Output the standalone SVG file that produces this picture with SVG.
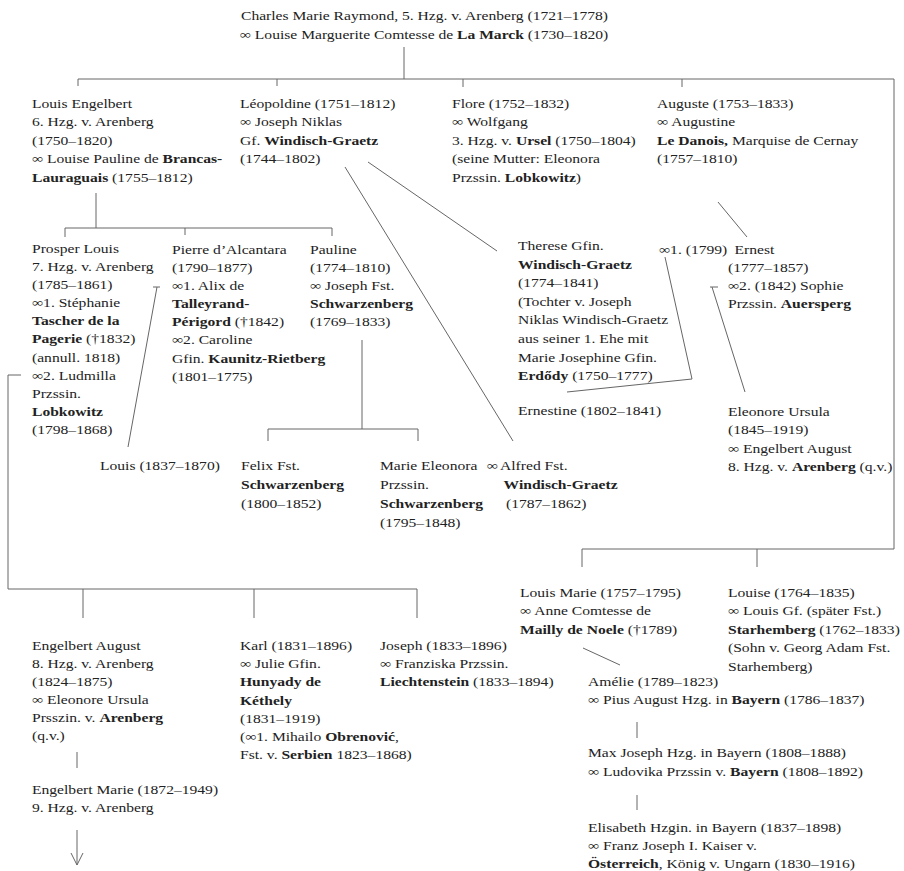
<svg xmlns="http://www.w3.org/2000/svg" width="904" height="871" viewBox="0 0 904 871">
<style>
text { font-family: "Liberation Serif", "Times New Roman", serif; font-size: 13px; fill: #222; }
.b { font-weight: bold; }
.c { fill: none; stroke: #666; stroke-width: 1; }
</style>
<rect width="904" height="871" fill="#fff"/>
<g id="connectors" class="c">
  <path d="M404,47 V79"/>
  <path d="M78,79 H894 V549"/>
  <path d="M78,79 V86 M277,79 V86 M463,79 V87 M682,79 V87"/>
  <path d="M96,193 V228 M65,237 V228 H332 V236 M185,228 V235"/>
  <path d="M345,167 L513,441"/>
  <path d="M368,162 L497,251"/>
  <path d="M718,202 L747,237"/>
  <path d="M665,257 L692,379 L567,392"/>
  <path d="M710,287 H718 M712,287 L745,392"/>
  <path d="M153,287 H160 M157,287 L128,447"/>
  <path d="M21,375 H8 V589 H417 V618 M83,589 V618 M254,589 V618"/>
  <path d="M362,340 V429 M268,441 V429 H418 V441"/>
  <path d="M582,567 V549 H894 M757,549 V567"/>
  <path d="M583,648 L620,665"/>
  <path d="M637,722 V738 M637,795 V810 M77,752 V768"/>
  <path d="M77,830 V865 M71,853 L77,865 L83,853"/>
</g>
<g id="charles" transform="translate(241,20) scale(1.2,1)">
  <text x="0" y="0">Charles Marie Raymond, 5. Hzg. v. Arenberg (1721–1778)</text>
  <text x="-1" y="19">∞ Louise Marguerite Comtesse de <tspan class="b">La Marck</tspan> (1730–1820)</text>
</g>
<g id="louis-engelbert" transform="translate(32,108) scale(1.2,1)">
  <text y="0">Louis Engelbert</text>
  <text y="18.5">6. Hzg. v. Arenberg</text>
  <text y="37">(1750–1820)</text>
  <text y="55.5">∞ Louise Pauline de <tspan class="b">Brancas-</tspan></text>
  <text y="74"><tspan class="b">Lauraguais</tspan> (1755–1812)</text>
</g>
<g id="leopoldine" transform="translate(240,108) scale(1.2,1)">
  <text y="0">Léopoldine (1751–1812)</text>
  <text y="18.5">∞ Joseph Niklas</text>
  <text y="37">Gf. <tspan class="b">Windisch-Graetz</tspan></text>
  <text y="55.5">(1744–1802)</text>
</g>
<g id="flore" transform="translate(452,108) scale(1.2,1)">
  <text y="0">Flore (1752–1832)</text>
  <text y="18.5">∞ Wolfgang</text>
  <text y="37">3. Hzg. v. <tspan class="b">Ursel</tspan> (1750–1804)</text>
  <text y="55.5">(seine Mutter: Eleonora</text>
  <text y="74">Przssin. <tspan class="b">Lobkowitz</tspan>)</text>
</g>
<g id="auguste" transform="translate(657,108) scale(1.2,1)">
  <text y="0">Auguste (1753–1833)</text>
  <text y="18.5">∞ Augustine</text>
  <text y="37"><tspan class="b">Le Danois,</tspan> Marquise de Cernay</text>
  <text y="55.5">(1757–1810)</text>
</g>
<g id="prosper" transform="translate(32,253) scale(1.2,1)">
  <text y="0">Prosper Louis</text>
  <text y="18.1">7. Hzg. v. Arenberg</text>
  <text y="36.2">(1785–1861)</text>
  <text y="54.3">∞1. Stéphanie</text>
  <text y="72.4" class="b">Tascher de la</text>
  <text y="90.5"><tspan class="b">Pagerie</tspan> (†1832)</text>
  <text y="108.6">(annull. 1818)</text>
  <text y="126.7">∞2. Ludmilla</text>
  <text y="144.8">Przssin.</text>
  <text y="162.9" class="b">Lobkowitz</text>
  <text y="181">(1798–1868)</text>
</g>
<g id="pierre" transform="translate(172,254) scale(1.2,1)">
  <text y="0">Pierre d’Alcantara</text>
  <text y="18.1">(1790–1877)</text>
  <text y="36.2">∞1. Alix de</text>
  <text y="54.3" class="b">Talleyrand-</text>
  <text y="72.4"><tspan class="b">Périgord</tspan> (†1842)</text>
  <text y="90.5">∞2. Caroline</text>
  <text y="108.6">Gfin. <tspan class="b">Kaunitz-Rietberg</tspan></text>
  <text y="126.7">(1801–1775)</text>
</g>
<g id="pauline" transform="translate(310,254) scale(1.2,1)">
  <text y="0">Pauline</text>
  <text y="18.1">(1774–1810)</text>
  <text y="36.2">∞ Joseph Fst.</text>
  <text y="54.3" class="b">Schwarzenberg</text>
  <text y="72.4">(1769–1833)</text>
</g>
<g id="therese" transform="translate(518,250) scale(1.2,1)">
  <text y="0">Therese Gfin.</text>
  <text y="18.6" class="b">Windisch-Graetz</text>
  <text y="37.2">(1774–1841)</text>
  <text y="55.8">(Tochter v. Joseph</text>
  <text y="74.4">Niklas Windisch-Graetz</text>
  <text y="93">aus seiner 1. Ehe mit</text>
  <text y="111.6">Marie Josephine Gfin.</text>
  <text y="130.2"><tspan class="b">Erdődy</tspan> (1750–1777)</text>
</g>
<g id="ernestine" transform="translate(518,415) scale(1.2,1)">
  <text y="0">Ernestine (1802–1841)</text>
</g>
<g id="ernest" transform="translate(659,254) scale(1.2,1)">
  <text x="0" y="0">∞1. (1799)</text>
  <text x="63" y="0">Ernest</text>
  <text x="57.5" y="18">(1777–1857)</text>
  <text x="57.5" y="36">∞2. (1842) Sophie</text>
  <text x="57.5" y="54">Przssin. <tspan class="b">Auersperg</tspan></text>
</g>
<g id="eleonore" transform="translate(728,416) scale(1.2,1)">
  <text y="0">Eleonore Ursula</text>
  <text y="18.3">(1845–1919)</text>
  <text y="36.6">∞ Engelbert August</text>
  <text y="54.9">8. Hzg. v. <tspan class="b">Arenberg</tspan> (q.v.)</text>
</g>
<g id="louis" transform="translate(100,470) scale(1.2,1)">
  <text y="0">Louis (1837–1870)</text>
</g>
<g id="felix" transform="translate(241,470) scale(1.2,1)">
  <text y="0">Felix Fst.</text>
  <text y="19" class="b">Schwarzenberg</text>
  <text y="38">(1800–1852)</text>
</g>
<g id="marie-eleonora" transform="translate(380,470) scale(1.2,1)">
  <text y="0">Marie Eleonora</text>
  <text x="89" y="0">∞</text>
  <text y="19">Przssin.</text>
  <text y="38" class="b">Schwarzenberg</text>
  <text y="57">(1795–1848)</text>
</g>
<g id="alfred" transform="translate(500,470) scale(1.2,1)">
  <text x="0" y="0">Alfred Fst.</text>
  <text x="3" y="19" class="b">Windisch-Graetz</text>
  <text x="5" y="38">(1787–1862)</text>
</g>
<g id="louis-marie" transform="translate(520,597) scale(1.2,1)">
  <text y="0">Louis Marie (1757–1795)</text>
  <text y="18.5">∞  Anne Comtesse de</text>
  <text y="37"><tspan class="b">Mailly de Noele</tspan> (†1789)</text>
</g>
<g id="louise" transform="translate(728,597) scale(1.2,1)">
  <text y="0">Louise (1764–1835)</text>
  <text y="18.5">∞ Louis Gf. (später Fst.)</text>
  <text y="37"><tspan class="b">Starhemberg</tspan> (1762–1833)</text>
  <text y="55.5">(Sohn v. Georg Adam Fst.</text>
  <text y="74">Starhemberg)</text>
</g>
<g id="engelbert-august" transform="translate(32,650) scale(1.2,1)">
  <text y="0">Engelbert August</text>
  <text y="18">8. Hzg. v. Arenberg</text>
  <text y="36">(1824–1875)</text>
  <text y="54">∞ Eleonore Ursula</text>
  <text y="72">Prsszin. v. <tspan class="b">Arenberg</tspan></text>
  <text y="90">(q.v.)</text>
</g>
<g id="karl" transform="translate(240,650) scale(1.2,1)">
  <text y="0">Karl (1831–1896)</text>
  <text y="18.2">∞ Julie Gfin.</text>
  <text y="36.4" class="b">Hunyady de</text>
  <text y="54.6" class="b">Kéthely</text>
  <text y="72.8">(1831–1919)</text>
  <text y="91">(∞1. Mihailo <tspan class="b">Obrenović</tspan>,</text>
  <text y="109.2">Fst. v. <tspan class="b">Serbien</tspan> 1823–1868)</text>
</g>
<g id="joseph" transform="translate(380,650) scale(1.2,1)">
  <text y="0">Joseph (1833–1896)</text>
  <text y="18.2">∞ Franziska Przssin.</text>
  <text y="36.4"><tspan class="b">Liechtenstein</tspan> (1833–1894)</text>
</g>
<g id="engelbert-marie" transform="translate(32,794) scale(1.2,1)">
  <text y="0">Engelbert Marie (1872–1949)</text>
  <text y="18">9. Hzg. v. Arenberg</text>
</g>
<g id="amelie" transform="translate(588,686) scale(1.2,1)">
  <text y="0">Amélie (1789–1823)</text>
  <text y="18">∞ Pius August Hzg. in <tspan class="b">Bayern</tspan> (1786–1837)</text>
</g>
<g id="max-joseph" transform="translate(588,757) scale(1.2,1)">
  <text y="0">Max Joseph Hzg. in Bayern (1808–1888)</text>
  <text y="19">∞ Ludovika Przssin v. <tspan class="b">Bayern</tspan> (1808–1892)</text>
</g>
<g id="elisabeth" transform="translate(588,832) scale(1.2,1)">
  <text y="0">Elisabeth Hzgin. in Bayern (1837–1898)</text>
  <text y="18">∞ Franz Joseph I. Kaiser v.</text>
  <text y="36"><tspan class="b">Österreich</tspan>, König v. Ungarn (1830–1916)</text>
</g>
</svg>
